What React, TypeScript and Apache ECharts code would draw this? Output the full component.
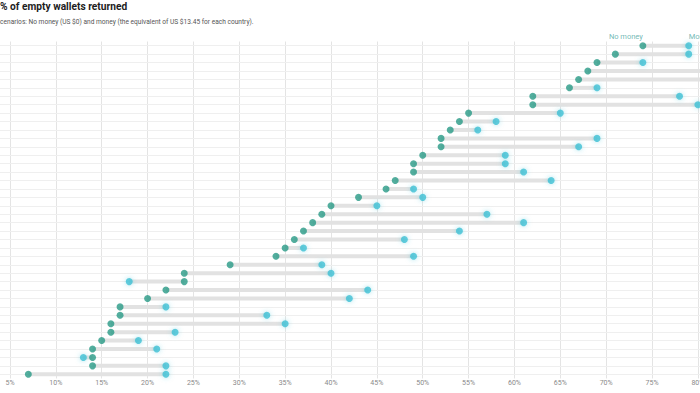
import React, { useEffect, useRef } from "react";
import * as echarts from "echarts";

const countries = [
  "Switzerland", "Norway", "Netherlands", "Denmark", "Sweden", "Czech Republic",
  "New Zealand", "Poland", "Germany", "Estonia", "Croatia", "Serbia", "France",
  "Greece", "Spain", "Russia", "Romania", "UK", "Australia", "Israel", "Canada",
  "South Africa", "Portugal", "Argentina", "USA", "Italy", "Chile", "Turkey",
  "Brazil", "Indonesia", "India", "Mexico", "UAE", "Thailand", "Ghana",
  "Malaysia", "Kenya", "Morocco", "Peru", "China",
];
const noMoney = [
  74, 71, 69, 68, 67, 66, 62, 62, 55, 54, 53, 52, 52, 50, 49, 49, 47, 46, 43, 40,
  39, 38, 37, 36, 35, 34, 29, 24, 24, 22, 20, 17, 17, 16, 16, 15, 14, 14, 14, 7,
];
const money = [
  79, 79, 74, 85, 82, 69, 78, 80, 65, 58, 56, 69, 67, 59, 59, 61, 64, 49, 50, 45,
  57, 61, 54, 48, 37, 49, 39, 40, 18, 44, 42, 22, 33, 35, 23, 19, 21, 13, 22, 22,
];
const visibleTicks = [5, 10, 15, 20, 25, 30, 35, 40, 45, 50, 55, 60, 65, 70, 75, 80];

const TITLE = "% of empty wallets returned";
const SUBTITLE =
  "scenarios: No money (US $0) and money (the equivalent of US $13.45 for each country).";

const FONT = "Roboto, 'Noto Sans', sans-serif";

export default function App() {
  const ref = useRef<HTMLDivElement>(null);
  useEffect(() => {
    if (!ref.current) return;
    const chart = echarts.init(ref.current, null, { renderer: "svg" });
    const rangeData = countries.map((c, i) => [i, noMoney[i], money[i]]);
    chart.setOption({
      animation: false,
      backgroundColor: "#ffffff",
      textStyle: { fontFamily: FONT },
      title: [
        {
          text: TITLE,
          left: 100,
          top: 1.5,
          padding: 0,
          textStyle: { fontSize: 10.2, fontWeight: "bold", color: "#1d1d1d", fontFamily: FONT },
        },
        {
          text: SUBTITLE,
          left: 96.7,
          top: 18.8,
          padding: 0,
          textStyle: { fontSize: 6.6, fontWeight: "normal", color: "#555", fontFamily: FONT },
        },
      ],
      grid: { left: 64.14, right: 10.4, top: 41.5, bottom: 14.5 },
      xAxis: {
        type: "value",
        min: 0,
        max: 90,
        interval: 5,
        axisLine: { show: false },
        axisTick: { show: false },
        splitLine: { show: true, lineStyle: { color: "#e4e4e4", width: 1 } },
        axisLabel: {
          margin: 1,
          fontSize: 7,
          color: "#8a8a8a",
          fontFamily: FONT,
          formatter: (v: number) => (visibleTicks.indexOf(v) >= 0 ? v + "%" : ""),
        },
      },
      yAxis: {
        type: "category",
        data: countries,
        inverse: true,
        axisLine: { show: false },
        axisTick: { show: false },
        axisLabel: { show: false },
        splitLine: { show: false },
      },
      series: [
        {
          type: "custom",
          name: "range",
          data: rangeData,
          encode: { y: 0, x: [1, 2] },
          z: 2,
          silent: true,
          renderItem: (params: any, api: any) => {
            const a = api.coord([api.value(1), api.value(0)]);
            const b = api.coord([api.value(2), api.value(0)]);
            return {
              type: "line",
              shape: { x1: a[0], y1: a[1], x2: b[0], y2: b[1] },
              style: { stroke: "#e2e2e2", lineWidth: 4 },
            };
          },
          markLine: {
            silent: true,
            symbol: ["none", "none"],
            label: { show: false },
            lineStyle: { color: "#efefef", width: 1, type: "solid" },
            data: countries.map((c) => ({ yAxis: c })),
            z: 1,
          },
        },
        {
          type: "scatter",
          name: "Money",
          z: 3,
          symbolSize: 7,
          itemStyle: {
            color: "#3ec1d5",
            shadowBlur: 5,
            shadowColor: "rgba(62,193,213,0.55)",
          },
          data: countries.map((c, i) =>
            i === 0
              ? {
                  value: [money[i], c],
                  label: {
                    show: true,
                    position: "top",
                    distance: 1.5,
                    align: "left",
                    formatter: "Money",
                    fontSize: 7.5,
                    color: "#4fa7a3",
                    fontFamily: FONT,
                  },
                }
              : [money[i], c]
          ),
        },
        {
          type: "scatter",
          name: "No money",
          z: 4,
          symbolSize: 7,
          itemStyle: { color: "#289a86" },
          data: countries.map((c, i) =>
            i === 0
              ? {
                  value: [noMoney[i], c],
                  label: {
                    show: true,
                    position: "top",
                    distance: 1.5,
                    align: "right",
                    formatter: "No money",
                    fontSize: 7.5,
                    color: "#4fa7a3",
                    fontFamily: FONT,
                  },
                }
              : [noMoney[i], c]
          ),
        },
      ],
    });
    return () => chart.dispose();
  }, []);
  return (
    <div
      style={{
        position: "fixed",
        left: 0,
        top: 0,
        width: 700,
        height: 393,
        overflow: "hidden",
        background: "#fff",
      }}
    >
      <div
        ref={ref}
        style={{ position: "absolute", left: -100, top: 0, width: 900, height: 393 }}
      />
    </div>
  );
}
